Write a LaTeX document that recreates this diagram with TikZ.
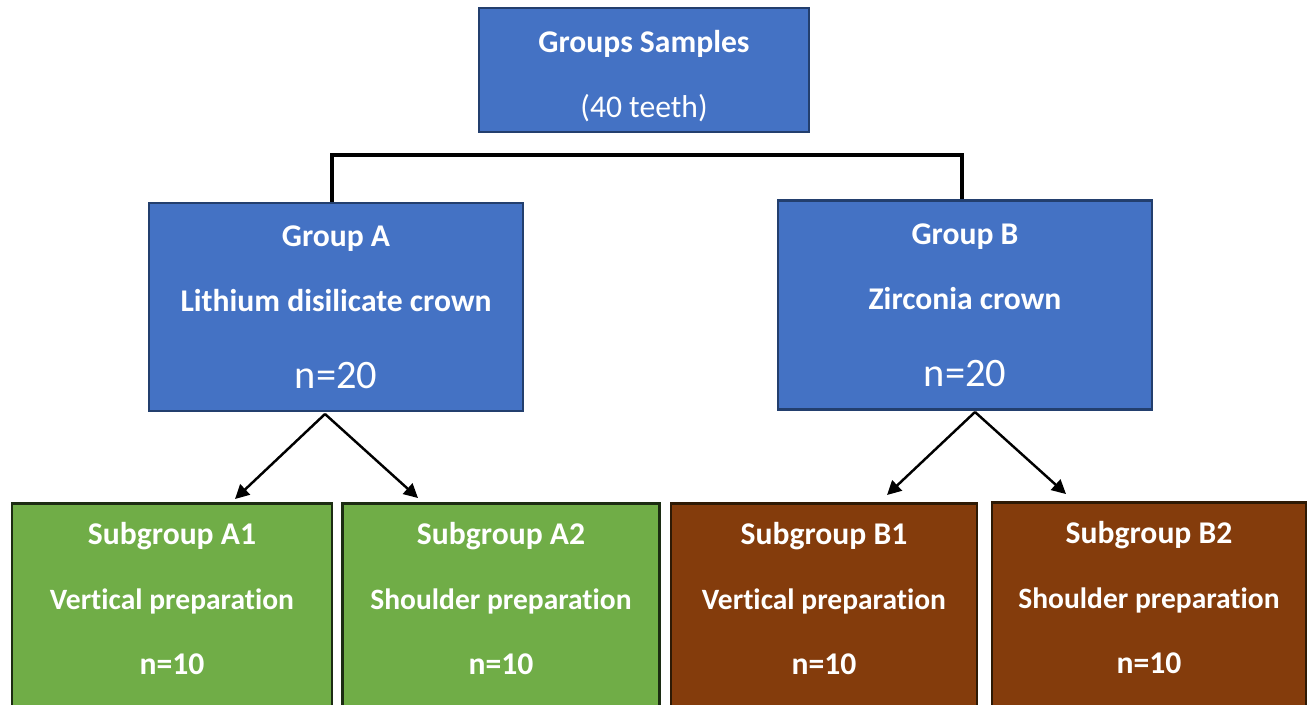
\documentclass[tikz,border=0pt]{standalone}
\usepackage{fontspec}
\setmainfont{Carlito}[Ligatures=NoCommon]
\usetikzlibrary{arrows.meta,positioning,calc}

\definecolor{boxblue}{HTML}{4472C4}
\definecolor{blueline}{HTML}{233F6E}
\definecolor{subgreen}{HTML}{70AD47}
\definecolor{greenline}{HTML}{1C2C12}
\definecolor{subbrown}{HTML}{843C0C}
\definecolor{brownline}{HTML}{2E1A05}

\newcommand{\prepline}[1]{{\fontsize{16.8}{37}\selectfont\textbf{#1}}}

\begin{document}
\begin{tikzpicture}[x=0.02cm, y=-0.02cm, >={Triangle[length=8pt,width=8pt]}, font=\fontsize{18}{37}\selectfont]

	% Frame of the figure (pixel units, y going down)
	\useasboundingbox (0,0) rectangle (1307,704);

	\tikzstyle{group box}=[draw=blueline, fill=boxblue, line width=1.5pt, text=white, align=center]
	\tikzstyle{sub box}=[line width=1.5pt, text=white, align=center, anchor=north, inner sep=11pt, text depth=17pt]
	\tikzstyle{arrow line}=[->, line width=1.4pt]

	% Samples and the two groups
	\node[group box, minimum width=6.6cm, minimum height=2.48cm] (top) at (644,70) {\rule{0pt}{19pt}\textbf{Groups Samples}\\(40 teeth)};
	\node[group box, minimum width=7.48cm, minimum height=4.16cm] (GA) at (336,307) {\textbf{Group A}\\\textbf{Lithium disilicate crown}\\[7pt]{\fontsize{23}{28}\selectfont n=20}};
	\node[group box, minimum width=7.48cm, minimum height=4.18cm] (GB) at (965,305) {\textbf{Group B}\\\textbf{Zirconia crown}\\[7pt]{\fontsize{23}{28}\selectfont n=20}};

	% Subgroups
	\node[sub box, fill=subgreen, draw=greenline, minimum width=6.4cm] (A1) at (172,502) {\textbf{Subgroup A1}\\\prepline{Vertical preparation}\\\textbf{n=10}};
	\node[sub box, fill=subgreen, draw=greenline, minimum width=6.34cm] (A2) at (501,502) {\textbf{Subgroup A2}\\\prepline{Shoulder preparation}\\\textbf{n=10}};
	\node[sub box, fill=subbrown, draw=brownline, minimum width=6.12cm] (B1) at (824,502) {\textbf{Subgroup B1}\\\prepline{Vertical preparation}\\\textbf{n=10}};
	\node[sub box, fill=subbrown, draw=brownline, minimum width=6.28cm] (B2) at (1149,501) {\textbf{Subgroup B2}\\\prepline{Shoulder preparation}\\\textbf{n=10}};

	% Bracket joining group A and group B
	\coordinate (split) at (644,155);
	\draw[line width=2.2pt] ([xshift=-0.08cm]GA.north) |- (split) -| ([xshift=-0.06cm]GB.north);

	% Arrows down to the subgroups
	\coordinate (GAfoot) at (325,414);
	\coordinate (GBfoot) at (975,412);
	\draw[arrow line] (GAfoot) -- ($(A1.north)+(63,-3)$);
	\draw[arrow line] (GAfoot) -- ($(A2.north)+(-83,-4)$);
	\draw[arrow line] (GBfoot) -- ($(B1.north)+(63,-7)$);
	\draw[arrow line] (GBfoot) -- ($(B2.north)+(-83,-7)$);

\end{tikzpicture}
\end{document}
